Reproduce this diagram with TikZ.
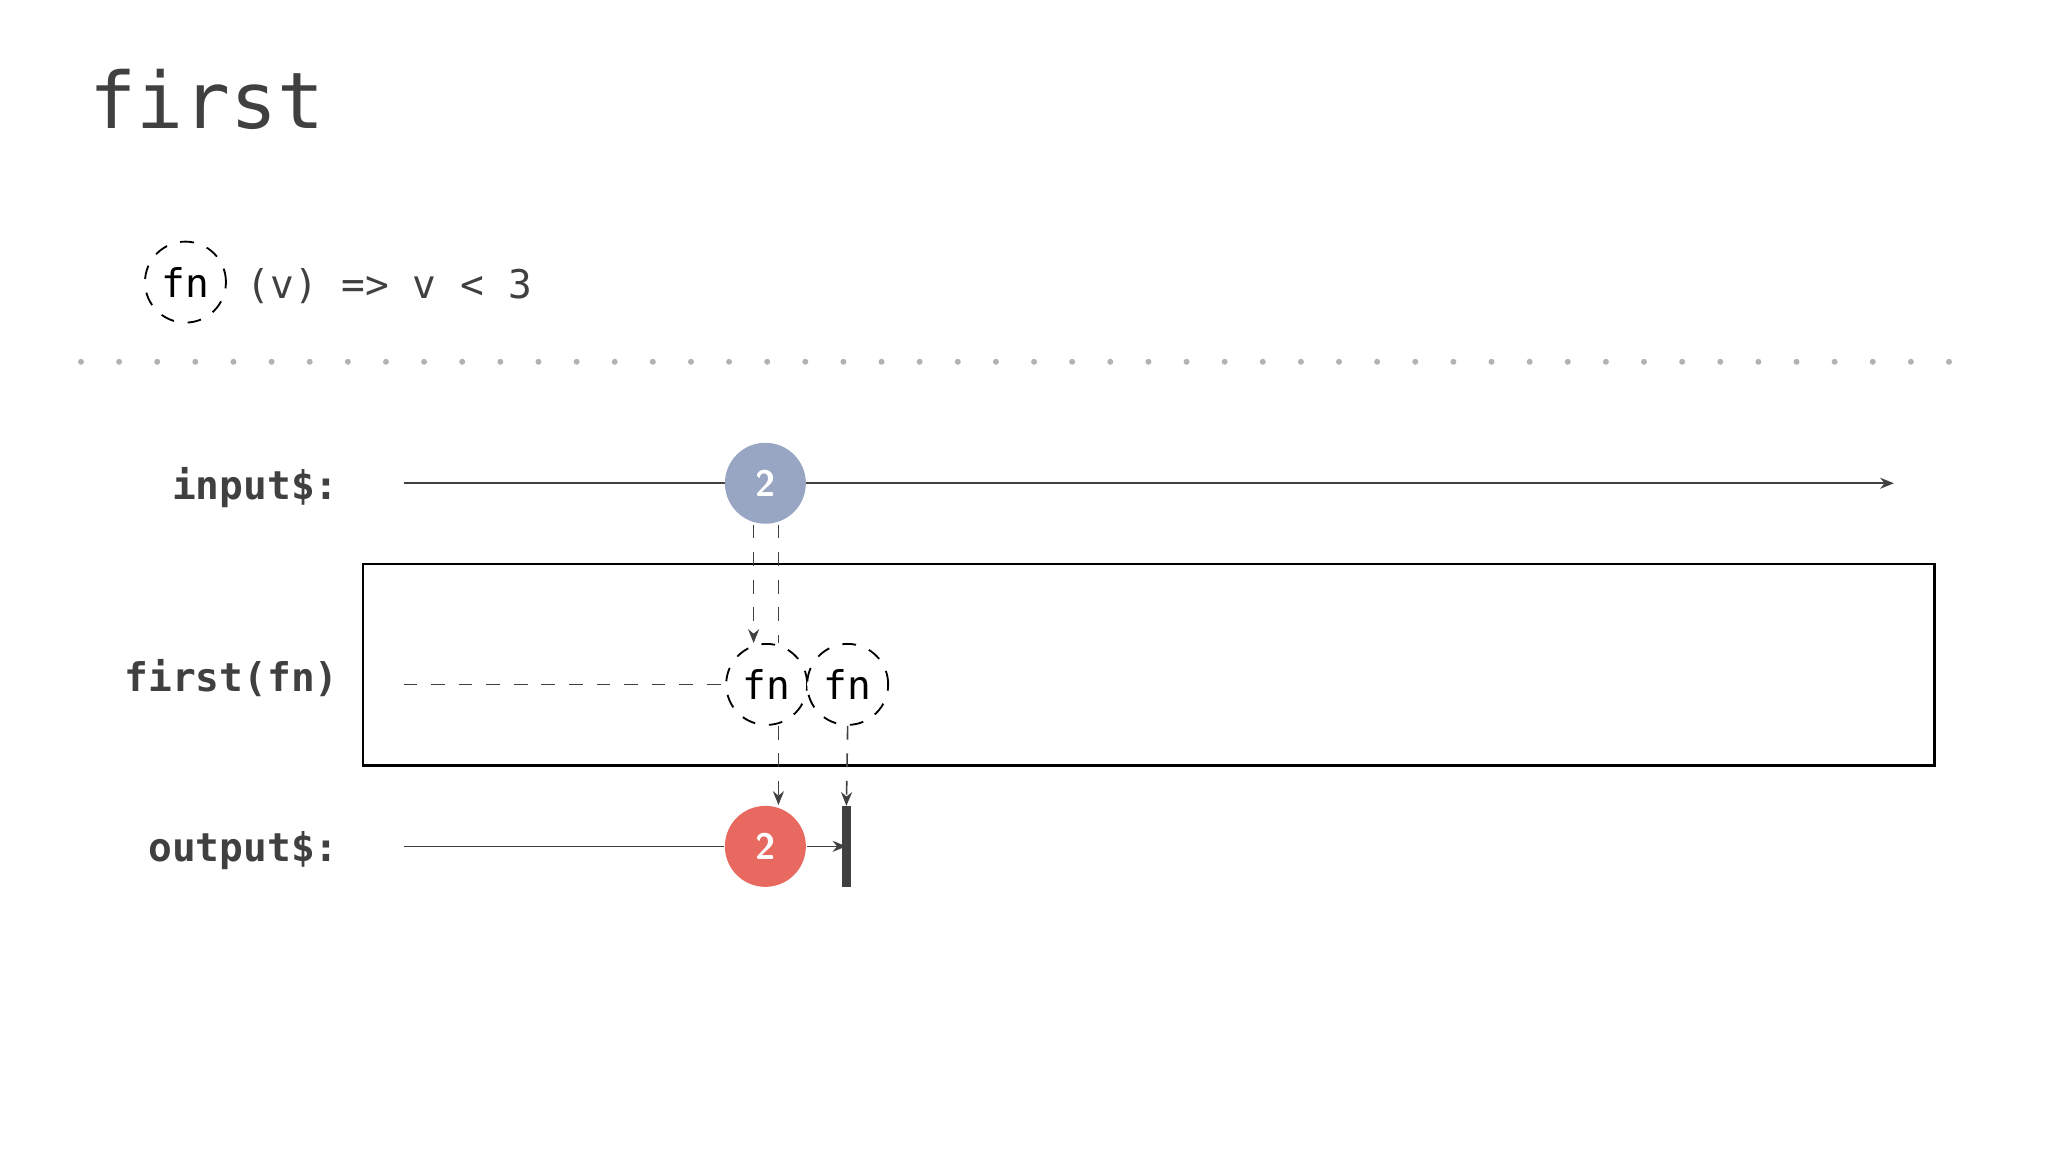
\documentclass[tikz,border=0pt]{standalone}
\usepackage{fontspec}
\setmonofont{DejaVu Sans Mono}
\usetikzlibrary{arrows.meta}
\definecolor{ink}{HTML}{404040}
\definecolor{inblue}{HTML}{98A6C4}
\definecolor{outred}{HTML}{E8695F}
\tikzset{
  lab/.style={anchor=east,font=\ttfamily\bfseries\fontsize{8.6}{10}\selectfont,text=ink,inner sep=0},
  fnc/.style={circle,draw=black,dashed,fill=white,minimum size=62*0.01cm,inner sep=0,font=\ttfamily\fontsize{8.6}{10}\selectfont},
  val/.style={circle,minimum size=62*0.01cm,inner sep=0,text=white,font=\sffamily\bfseries\fontsize{8}{10}\selectfont},
  tl/.style={draw=ink,line width=0.35pt},
  arr/.style={-{Stealth[length=3pt,width=2.4pt]}},
  dl/.style={draw=ink,dashed,line width=0.35pt}
}
\begin{document}
\begin{tikzpicture}[x=0.01cm,y=-0.01cm]
\useasboundingbox (0,0) rectangle (1568,882);
\node[anchor=west,inner sep=0,font=\ttfamily\fontsize{17}{20}\selectfont,text=ink] (title) at (68,76) {first};
\node[fnc] (fnlegend) at (142,216) {fn};
\node[anchor=west,inner sep=0,font=\ttfamily\fontsize{8.6}{10}\selectfont,text=ink] (legend) at (188,219) {(v) => v < 3};
\coordinate (d1) at (62,277); \coordinate (d2) at (1512,277);
\draw[gray!60,line width=1.3pt,line cap=round,dash pattern=on 0pt off 8.3pt] (d1) -- (d2);
\node[lab] (linput) at (260,373) {input\$:};
\node[lab] (lfirst) at (260,519) {first(fn)};
\node[lab] (loutput) at (260,651) {output\$:};
\node[draw=black,line width=0.5pt,minimum width=1203*0.01cm,minimum height=154*0.01cm,inner sep=0] (box) at (879.5,509) {};
\coordinate (is) at (309,370); \coordinate (ie) at (1450,370);
\draw[tl,arr] (is) -- (ie);
\node[val,fill=inblue] (in2) at (586,370) {2};
\coordinate (fs) at (309,524);
\node[fnc] (fn1) at (587,524) {fn};
\node[fnc] (fn2) at (649,524) {fn};
\draw[dl] (fs) -- (fn1.west);
\coordinate (os) at (309,648);
\coordinate (bart) at (648,617); \coordinate (barb) at (648,679);
\draw[ink,line width=2pt] (bart) -- (barb);
\node[val,fill=outred] (out2) at (586,648) {2};
\draw[tl] (os) -- (out2.west);
\draw[tl,arr] (out2.east) -- (bart |- out2);
\draw[dl,arr] ([xshift=-9*0.01cm]in2.south) -- ([xshift=-10*0.01cm]fn1.north);
\draw[dl] ([xshift=10*0.01cm]in2.south) -- ([xshift=9*0.01cm]fn1.north);
\draw[dl,arr] ([xshift=9*0.01cm]fn1.south) -- ([xshift=10*0.01cm]out2.north);
\draw[dl,arr] (fn2.south) -- (bart);
\end{tikzpicture}
\end{document}
